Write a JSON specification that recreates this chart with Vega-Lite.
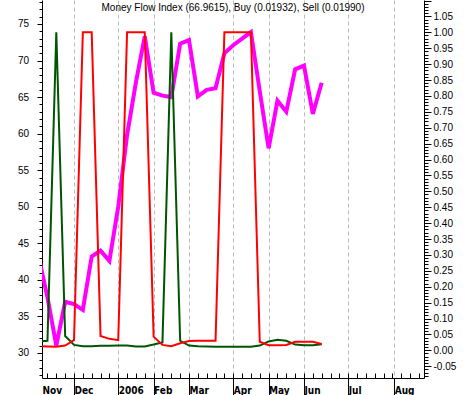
{
  "$schema": "https://vega.github.io/schema/vega-lite/v6.json",
  "width": 382,
  "height": 378,
  "autosize": {"type": "none"},
  "padding": {"left": 42, "top": 0, "right": 41, "bottom": 17},
  "background": "white",
  "title": {
    "text": "Money Flow Index (66.9615), Buy (0.01932), Sell (0.01990)",
    "font": "Liberation Sans",
    "fontSize": 10,
    "fontWeight": "normal",
    "color": "black",
    "anchor": "middle",
    "frame": "group",
    "baseline": "alphabetic",
    "offset": -25
  },
  "config": {
    "view": {"stroke": null},
    "axis": {
      "labelFont": "Liberation Sans",
      "labelFontSize": 10,
      "labelColor": "black",
      "domainColor": "black",
      "tickColor": "black",
      "labelOverlap": false,
      "labelFlush": false,
      "labelBound": false,
      "title": null
    }
  },
  "data": {
    "values": [
      {"k": -4, "mfi": 43.2, "buy": 0.028, "sell": 0.013},
      {"k": -3, "mfi": 37.6, "buy": 0.030, "sell": 0.012},
      {"k": -2, "mfi": 31.0, "buy": 1.000, "sell": 0.011},
      {"k": -1, "mfi": 37.0, "buy": 0.045, "sell": 0.015},
      {"k": 0, "mfi": 36.7, "buy": 0.017, "sell": 0.032},
      {"k": 1, "mfi": 35.9, "buy": 0.013, "sell": 1.000},
      {"k": 2, "mfi": 43.2, "buy": 0.013, "sell": 1.000},
      {"k": 3, "mfi": 44.0, "buy": 0.014, "sell": 0.045},
      {"k": 4, "mfi": 42.6, "buy": 0.014, "sell": 0.036},
      {"k": 5, "mfi": 50.0, "buy": 0.015, "sell": 0.032},
      {"k": 6, "mfi": 59.8, "buy": 0.015, "sell": 1.000},
      {"k": 7, "mfi": 67.0, "buy": 0.012, "sell": 1.000},
      {"k": 8, "mfi": 73.3, "buy": 0.012, "sell": 1.000},
      {"k": 9, "mfi": 65.6, "buy": 0.018, "sell": 0.043},
      {"k": 10, "mfi": 65.2, "buy": 0.025, "sell": 0.017},
      {"k": 11, "mfi": 65.0, "buy": 1.000, "sell": 0.013},
      {"k": 12, "mfi": 72.3, "buy": 0.030, "sell": 0.022},
      {"k": 13, "mfi": 72.8, "buy": 0.015, "sell": 0.029},
      {"k": 14, "mfi": 65.1, "buy": 0.013, "sell": 0.030},
      {"k": 15, "mfi": 66.0, "buy": 0.012, "sell": 0.030},
      {"k": 16, "mfi": 66.2, "buy": 0.011, "sell": 0.030},
      {"k": 17, "mfi": 71.0, "buy": 0.011, "sell": 1.000},
      {"k": 18, "mfi": 72.1, "buy": 0.011, "sell": 1.000},
      {"k": 19, "mfi": 73.0, "buy": 0.011, "sell": 1.000},
      {"k": 20, "mfi": 73.9, "buy": 0.011, "sell": 1.000},
      {"k": 21, "mfi": 65.8, "buy": 0.015, "sell": 0.027},
      {"k": 22, "mfi": 58.0, "buy": 0.028, "sell": 0.016},
      {"k": 23, "mfi": 64.5, "buy": 0.033, "sell": 0.016},
      {"k": 24, "mfi": 63.0, "buy": 0.030, "sell": 0.017},
      {"k": 25, "mfi": 68.8, "buy": 0.018, "sell": 0.027},
      {"k": 26, "mfi": 69.3, "buy": 0.016, "sell": 0.027},
      {"k": 27, "mfi": 62.7, "buy": 0.016, "sell": 0.027},
      {"k": 28, "mfi": 66.9615, "buy": 0.01932, "sell": 0.01990}
    ]
  },
  "layer": [
    {
      "mark": {"type": "line", "color": "#ff00ff", "strokeWidth": 4, "clip": true},
      "encoding": {
        "x": {
          "field": "k",
          "type": "quantitative",
          "scale": {"domain": [-3.6175, 39.566], "nice": false, "zero": false},
          "axis": {
            "orient": "bottom",
            "values": [-3.6175, 0, 5, 9, 13, 18, 22, 26, 31, 36.2],
            "labelExpr": "datum.value < -3 ? 'Nov' : datum.value == 0 ? 'Dec' : datum.value == 5 ? '2006' : datum.value == 9 ? 'Feb' : datum.value == 13 ? 'Mar' : datum.value == 18 ? 'Apr' : datum.value == 22 ? 'May' : datum.value == 26 ? 'Jun' : datum.value == 31 ? 'Jul' : 'Aug'",
            "labelFont": "Liberation Sans Narrow, DejaVu Sans Condensed, Liberation Sans",
            "labelFontWeight": "bold",
            "labelFontSize": 10,
            "labelAlign": "left",
            "labelBaseline": "alphabetic",
            "labelDx": 2,
            "labelPadding": -2,
            "tickSize": 17,
            "tickOpacity": {"condition": {"test": "datum.value < -3", "value": 0}, "value": 1},
            "grid": true,
            "gridDash": [4, 3],
            "gridColor": "#bbbbbb",
            "gridOpacity": {"condition": {"test": "datum.value < -3", "value": 0}, "value": 1}
          }
        },
        "y": {
          "field": "mfi",
          "type": "quantitative",
          "scale": {"domain": [26.58, 78.28], "nice": false, "zero": false},
          "axis": {
            "orient": "left",
            "values": [27,28,29,30,31,32,33,34,35,36,37,38,39,40,41,42,43,44,45,46,47,48,49,50,51,52,53,54,55,56,57,58,59,60,61,62,63,64,65,66,67,68,69,70,71,72,73,74,75,76,77,78],
            "labelExpr": "datum.value % 5 == 0 ? datum.label : ''",
            "tickSize": {"condition": {"test": "datum.value % 5 == 0", "value": 5}, "value": 3},
            "labelPadding": 8.5,
            "grid": false
          }
        }
      }
    },
    {
      "transform": [{"fold": ["buy", "sell"], "as": ["series", "v"]}],
      "mark": {"type": "line", "strokeWidth": 2, "clip": true},
      "encoding": {
        "x": {
          "field": "k",
          "type": "quantitative",
          "axis": {
            "orient": "bottom",
            "values": [-3,-2,-1,0,1,2,3,4,5,6,7,8,9,10,11,12,13,14,15,16,17,18,19,20,21,22,23,24,25,26,27,28,29,30,31,32,33,34,35,36,37,38,39],
            "labels": false,
            "domain": false,
            "grid": false,
            "tickSize": -5
          }
        },
        "y": {
          "field": "v",
          "type": "quantitative",
          "scale": {"domain": [-0.0871, 1.1016], "nice": false, "zero": false},
          "axis": {
            "orient": "right",
            "values": [-0.08,-0.07,-0.06,-0.05,-0.04,-0.03,-0.02,-0.01,0,0.01,0.02,0.03,0.04,0.05,0.06,0.07,0.08,0.09,0.1,0.11,0.12,0.13,0.14,0.15,0.16,0.17,0.18,0.19,0.2,0.21,0.22,0.23,0.24,0.25,0.26,0.27,0.28,0.29,0.3,0.31,0.32,0.33,0.34,0.35,0.36,0.37,0.38,0.39,0.4,0.41,0.42,0.43,0.44,0.45,0.46,0.47,0.48,0.49,0.5,0.51,0.52,0.53,0.54,0.55,0.56,0.57,0.58,0.59,0.6,0.61,0.62,0.63,0.64,0.65,0.66,0.67,0.68,0.69,0.7,0.71,0.72,0.73,0.74,0.75,0.76,0.77,0.78,0.79,0.8,0.81,0.82,0.83,0.84,0.85,0.86,0.87,0.88,0.89,0.9,0.91,0.92,0.93,0.94,0.95,0.96,0.97,0.98,0.99,1,1.01,1.02,1.03,1.04,1.05,1.06,1.07,1.08,1.09,1.1],
            "labelExpr": "(round(datum.value*100) % 5 == 0 && datum.value < 1.07) ? (datum.value < 0 ? '-' + format(-datum.value, '.2f') : format(datum.value, '.2f')) : ''",
            "tickSize": {"condition": {"test": "round(datum.value*100) % 5 == 0", "value": 7}, "value": 4},
            "labelPadding": 2,
            "grid": false
          }
        },
        "color": {
          "field": "series",
          "type": "nominal",
          "scale": {"domain": ["buy", "sell"], "range": ["#005500", "#ff0000"]},
          "legend": null
        }
      }
    }
  ],
  "resolve": {"scale": {"y": "independent"}, "axis": {"x": "independent", "y": "independent"}}
}
